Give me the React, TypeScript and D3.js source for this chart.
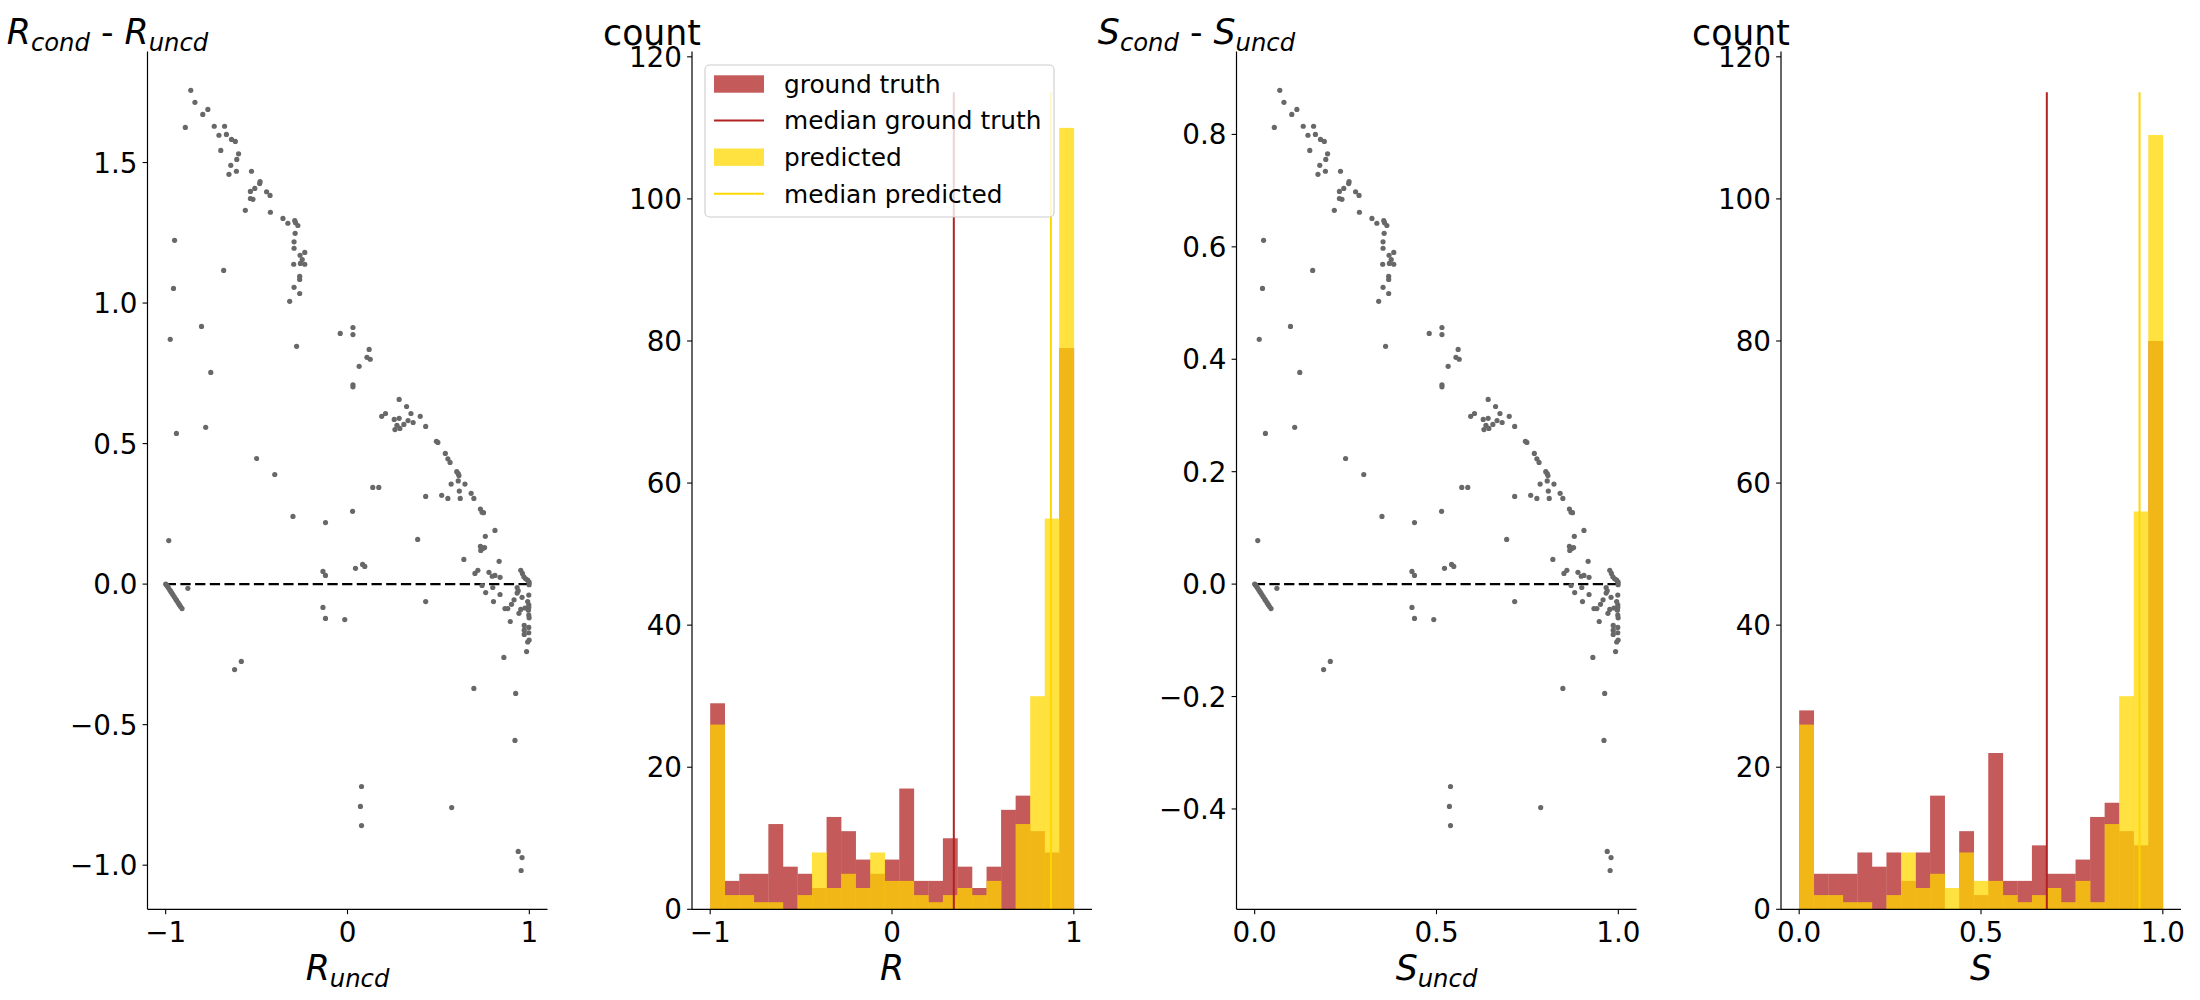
import * as d3 from "d3";
import React from "react";

const W = 2200;
const H = 1000;
const axTop = 51.5;
const axBottom = 909.3;
const axW = 400;
const lefts = [147.5, 692, 1236.5, 1781];

const FONT = "DejaVu Sans, Liberation Sans, sans-serif";
const tickSize = 27.8;
const labelSize = 34.7;
const subSize = 24.3;
const legendSize = 24.8;

/* ---------- scatter: R_uncd vs R_cond - R_uncd ---------- */
const rUncd = [
    -0.862, -0.839, -0.796, -0.768, -0.892, -0.733, -0.676, -0.707, -0.666, -0.638,
    -0.617, -0.697, -0.599, -0.609, -0.642, -0.652, -0.611, -0.528, -0.481, -0.483,
    -0.510, -0.534, -0.445, -0.426, -0.534, -0.520, -0.562, -0.424, -0.355, -0.328,
    -0.290, -0.286, -0.273, -0.288, -0.294, -0.294, -0.235, -0.261, -0.249, -0.259,
    -0.235, -0.296, -0.263, -0.263, -0.294, -0.263, -0.318, -0.951, -0.957, -0.681,
    -0.803, -0.975, -0.280, -0.752, -0.040, 0.030, 0.030, 0.119, 0.107, 0.125,
    0.064, 0.030, 0.030, -0.941, -0.780, -0.500, -0.400, 0.284, 0.325, 0.188,
    0.209, 0.257, 0.284, 0.349, 0.400, 0.333, 0.361, 0.310, 0.272, 0.261,
    0.288, 0.430, 0.489, 0.497, 0.538, 0.552, 0.564, 0.601, 0.609, 0.613,
    0.570, 0.609, 0.646, 0.615, 0.680, 0.139, 0.172, 0.430, 0.518, 0.552,
    0.620, 0.695, 0.731, 0.740, 0.748, -0.300, -0.121, 0.028, 0.811, 0.758,
    -0.983, 0.386, 0.731, 0.744, 0.733, 0.754, 0.640, 0.834, 0.044, 0.083,
    0.095, -0.135, -0.121, 0.701, 0.717, 0.778, 0.796, 0.811, 0.839, 0.953,
    0.962, 0.970, 0.980, 0.991, 0.999, 0.999, 0.740, 0.799, 0.933, 0.939,
    0.933, 0.760, 0.839, 0.960, 0.997, 0.916, 0.430, 0.803, 0.991, 0.997,
    0.902, 0.997, 0.866, 0.882, 0.953, 0.976, 0.995, 0.943, 0.997, 0.999,
    -0.135, -0.121, -0.015, 0.895, 0.972, 0.997, 0.972, 0.997, 0.972, 0.999,
    0.991, 0.985, 0.860, -0.584, -0.621, 0.695, 0.925, 0.921, 0.077, 0.071,
    0.077, 0.573, 0.939, 0.960, 0.955, -0.878,
    -1.0, -0.995, -0.99, -0.985, -0.978, -0.972, -0.966, -0.96, -0.953, -0.946,
    -0.94, -0.932, -0.925, -0.918, -0.91,
];
const rGap = [
    1.757, 1.714, 1.671, 1.689, 1.625, 1.629, 1.629, 1.597, 1.600, 1.582,
    1.575, 1.543, 1.531, 1.511, 1.490, 1.458, 1.469, 1.469, 1.432, 1.425,
    1.408, 1.397, 1.396, 1.383, 1.372, 1.369, 1.330, 1.323, 1.301, 1.284,
    1.293, 1.286, 1.276, 1.248, 1.218, 1.195, 1.180, 1.170, 1.155, 1.141,
    1.138, 1.138, 1.095, 1.084, 1.056, 1.034, 1.006, 1.223, 1.052, 1.116,
    0.917, 0.871, 0.846, 0.753, 0.892, 0.913, 0.888, 0.835, 0.807, 0.800,
    0.775, 0.709, 0.702, 0.536, 0.558, 0.447, 0.390, 0.657, 0.632, 0.597,
    0.607, 0.586, 0.590, 0.607, 0.597, 0.582, 0.575, 0.568, 0.565, 0.550,
    0.554, 0.561, 0.508, 0.504, 0.465, 0.446, 0.433, 0.400, 0.393, 0.386,
    0.356, 0.367, 0.356, 0.331, 0.323, 0.344, 0.344, 0.312, 0.316, 0.305,
    0.305, 0.305, 0.267, 0.256, 0.254, 0.241, 0.219, 0.259, 0.191, 0.170,
    0.155, 0.159, 0.134, 0.127, 0.120, 0.130, 0.088, 0.081, 0.056, 0.070,
    0.063, 0.045, 0.031, 0.038, 0.049, 0.042, 0.028, 0.031, 0.024, 0.049,
    0.038, 0.026, 0.019, 0.014, 0.007, -0.002, -0.005, -0.012, -0.012, -0.024,
    -0.032, -0.030, -0.037, -0.047, -0.039, -0.056, -0.062, -0.062, -0.062, -0.074,
    -0.072, -0.083, -0.087, -0.087, -0.090, -0.085, -0.093, -0.104, -0.110, -0.120,
    -0.083, -0.122, -0.126, -0.133, -0.147, -0.154, -0.164, -0.173, -0.179, -0.199,
    -0.206, -0.240, -0.261, -0.275, -0.304, -0.371, -0.389, -0.556, -0.720, -0.791,
    -0.859, -0.795, -0.951, -0.973, -1.019, -0.015,
    0.0, -0.003, -0.008, -0.013, -0.02, -0.026, -0.032, -0.038, -0.045, -0.052,
    -0.058, -0.066, -0.073, -0.080, -0.087,
];
// the S panel shows the very same pairs on the [0, 1] scale: S = (R + 1) / 2
const sUncd = rUncd.map((r) => (r + 1) / 2);
const sGap = rGap.map((g) => g / 2);

/* ---------- histograms (25 bins) ---------- */
const rBinEdges = d3.range(26).map((i) => -1 + i * 0.08);
const sBinEdges = d3.range(26).map((i) => i * 0.04);
const rTruthCounts = [29, 4, 5, 5, 12, 6, 5, 3, 13, 11, 7, 5, 7, 17, 4, 4, 10, 6, 3, 6, 14, 16, 11, 8, 79];
const rPredCounts = [26, 2, 2, 1, 1, 0, 2, 8, 3, 5, 3, 8, 4, 4, 2, 1, 2, 3, 2, 4, 0, 12, 30, 55, 110];
const sTruthCounts = [28, 5, 5, 5, 8, 6, 8, 4, 8, 16, 0, 11, 2, 22, 4, 4, 9, 5, 5, 7, 13, 15, 11, 9, 80];
const sPredCounts = [26, 2, 2, 1, 1, 0, 2, 8, 3, 5, 3, 8, 4, 4, 2, 1, 2, 3, 1, 4, 1, 12, 30, 56, 109];
const rMedians = { truth: 0.34, pred: 0.874 };
const sMedians = { truth: 0.681, pred: 0.936 };
const medianTop = 115;

/* ---------- ticks ---------- */
const rTicks = [-1, 0, 1];
const sTicks = [0.0, 0.5, 1.0];
const rGapTicks = [-1.0, -0.5, 0.0, 0.5, 1.0, 1.5];
const sGapTicks = [-0.4, -0.2, 0.0, 0.2, 0.4, 0.6, 0.8];
const countTicks = [0, 20, 40, 60, 80, 100, 120];

const legendItems = [
    { label: "ground truth", kind: "patch", color: "#c45a5a", opacity: 1 },
    { label: "median ground truth", kind: "line", color: "#b22222", opacity: 1 },
    { label: "predicted", kind: "patch", color: "#ffd700", opacity: 0.75 },
    { label: "median predicted", kind: "line", color: "#ffd700", opacity: 1 },
];

const TRUTH = "#c45a5a";
const PRED = "#ffd700";
const DOT = "#686868";

const minus = (s: string) => s.replace("-", "\u2212");

type Part = { t: string; sub?: boolean; it?: boolean };

function MathText({ x, y, parts, anchor = "middle" }: { x: number; y: number; parts: Part[]; anchor?: string }) {
    let shifted = false;
    return (
        <text x={x} y={y} textAnchor={anchor} fontFamily={FONT} fontSize={labelSize} style={{ whiteSpace: "pre" }}>
            {parts.map((p, k) => {
                let dy = 0;
                if (p.sub && !shifted) { dy = 7; shifted = true; }
                else if (!p.sub && shifted) { dy = -7; shifted = false; }
                return (
                    <tspan key={k} dy={dy} fontSize={p.sub ? subSize : labelSize}
                           fontStyle={p.it || p.sub ? "italic" : "normal"}>{p.t}</tspan>
                );
            })}
        </text>
    );
}

function Frame({ left, x, y, xTicks, yTicks, xFmt, yFmt }: {
    left: number;
    x: d3.ScaleLinear<number, number>;
    y: d3.ScaleLinear<number, number>;
    xTicks: number[]; yTicks: number[];
    xFmt: (v: number) => string; yFmt: (v: number) => string;
}) {
    return (
        <g fontFamily={FONT} fontSize={tickSize}>
            <line x1={left} x2={left} y1={axTop} y2={axBottom} stroke="#000" strokeWidth={1.2} />
            <line x1={left} x2={left + axW} y1={axBottom} y2={axBottom} stroke="#000" strokeWidth={1.2} />
            {xTicks.map((t) => (
                <g key={"x" + t}>
                    <line x1={x(t)} x2={x(t)} y1={axBottom} y2={axBottom + 4.9} stroke="#000" strokeWidth={1.1} />
                    <text x={x(t)} y={941.5} textAnchor="middle">{minus(xFmt(t))}</text>
                </g>
            ))}
            {yTicks.map((t) => (
                <g key={"y" + t}>
                    <line x1={left - 4.9} x2={left} y1={y(t)} y2={y(t)} stroke="#000" strokeWidth={1.1} />
                    <text x={left - 10} y={y(t) + 10} textAnchor="end">{minus(yFmt(t))}</text>
                </g>
            ))}
        </g>
    );
}

function ScatterPanel({ left, xs, ys, xDomain, yDomain, xTicks, yTicks, xFmt, yFmt, ylab, xlab, lineFrom, lineTo }: any) {
    const x = d3.scaleLinear().domain(xDomain).range([left, left + axW]);
    const y = d3.scaleLinear().domain(yDomain).range([axBottom, axTop]);
    return (
        <g>
            <line x1={x(lineFrom)} x2={x(lineTo)} y1={y(0)} y2={y(0)} stroke="#000" strokeWidth={2.2} strokeDasharray="10.3,4.4" />
            {xs.map((v: number, i: number) => (
                <circle key={i} cx={x(v)} cy={y(ys[i])} r={2.6} fill={DOT} />
            ))}
            <Frame left={left} x={x} y={y} xTicks={xTicks} yTicks={yTicks} xFmt={xFmt} yFmt={yFmt} />
            <MathText x={left - 40} y={44} parts={ylab} />
            <MathText x={left + axW / 2} y={980} parts={xlab} />
        </g>
    );
}

function HistPanel({ left, edges, truth, pred, medians, xDomain, xTicks, xFmt, xlab, legend }: any) {
    const x = d3.scaleLinear().domain(xDomain).range([left, left + axW]);
    const y = d3.scaleLinear().domain([0, 120.75]).range([axBottom, axTop]);
    const bars = (counts: number[], color: string, opacity: number) =>
        counts.map((c, i) => (
            <rect key={i} x={x(edges[i])} width={x(edges[i + 1]) - x(edges[i]) + 0.3}
                  y={y(c)} height={y(0) - y(c)} fill={color} fillOpacity={opacity} />
        ));
    const lx = 705, ly = 65, lw = 349, lh = 152;
    return (
        <g>
            <g>{bars(truth, TRUTH, 1)}</g>
            <g>{bars(pred, PRED, 0.75)}</g>
            <line x1={x(medians.truth)} x2={x(medians.truth)} y1={y(0)} y2={y(medianTop)} stroke="#b22222" strokeWidth={2} />
            <line x1={x(medians.pred)} x2={x(medians.pred)} y1={y(0)} y2={y(medianTop)} stroke={PRED} strokeWidth={2} />
            <Frame left={left} x={x} y={y} xTicks={xTicks} yTicks={countTicks} xFmt={xFmt} yFmt={(v) => String(v)} />
            <text x={left - 40} y={44.5} textAnchor="middle" fontFamily={FONT} fontSize={labelSize}>count</text>
            <MathText x={left + axW / 2} y={980} parts={xlab} />
            {legend && (
                <g fontFamily={FONT} fontSize={legendSize}>
                    <rect x={lx} y={ly} width={lw} height={lh} rx={4.5} fill="#fff" fillOpacity={0.8} stroke="#cccccc" strokeWidth={1.1} />
                    {legendItems.map((it, i) => {
                        const cy = 84 + i * 36.6;
                        return (
                            <g key={it.label}>
                                {it.kind === "patch" ? (
                                    <rect x={714} y={cy - 8.7} width={50} height={17.4} fill={it.color} fillOpacity={it.opacity} />
                                ) : (
                                    <line x1={714} x2={764} y1={cy} y2={cy} stroke={it.color} strokeWidth={2} />
                                )}
                                <text x={784} y={cy + 8.8}>{it.label}</text>
                            </g>
                        );
                    })}
                </g>
            )}
        </g>
    );
}

export default function App() {
    return (
        <svg width={W} height={H} viewBox={`0 0 ${W} ${H}`}
             style={{ position: "absolute", left: 0, top: 0, background: "#fff" }}>
            <rect width={W} height={H} fill="#fff" />
            <ScatterPanel
                left={lefts[0]} xs={rUncd} ys={rGap}
                xDomain={[-1.1, 1.1]} yDomain={[-1.157, 1.895]}
                xTicks={rTicks} yTicks={rGapTicks}
                xFmt={(v: number) => d3.format("d")(v)} yFmt={(v: number) => v.toFixed(1)}
                ylab={[{ t: "R", it: true }, { t: "cond", sub: true }, { t: " - " }, { t: "R", it: true }, { t: "uncd", sub: true }]}
                xlab={[{ t: "R", it: true }, { t: "uncd", sub: true }]}
                lineFrom={-1} lineTo={1}
            />
            <HistPanel
                left={lefts[1]} edges={rBinEdges} truth={rTruthCounts} pred={rPredCounts} medians={rMedians}
                xDomain={[-1.1, 1.1]} xTicks={rTicks} xFmt={(v: number) => d3.format("d")(v)}
                xlab={[{ t: "R", it: true }]} legend
            />
            <ScatterPanel
                left={lefts[2]} xs={sUncd} ys={sGap}
                xDomain={[-0.05, 1.05]} yDomain={[-0.5785, 0.9475]}
                xTicks={sTicks} yTicks={sGapTicks}
                xFmt={(v: number) => v.toFixed(1)} yFmt={(v: number) => v.toFixed(1)}
                ylab={[{ t: "S", it: true }, { t: "cond", sub: true }, { t: " - " }, { t: "S", it: true }, { t: "uncd", sub: true }]}
                xlab={[{ t: "S", it: true }, { t: "uncd", sub: true }]}
                lineFrom={0} lineTo={1}
            />
            <HistPanel
                left={lefts[3]} edges={sBinEdges} truth={sTruthCounts} pred={sPredCounts} medians={sMedians}
                xDomain={[-0.05, 1.05]} xTicks={sTicks} xFmt={(v: number) => v.toFixed(1)}
                xlab={[{ t: "S", it: true }]}
            />
        </svg>
    );
}
